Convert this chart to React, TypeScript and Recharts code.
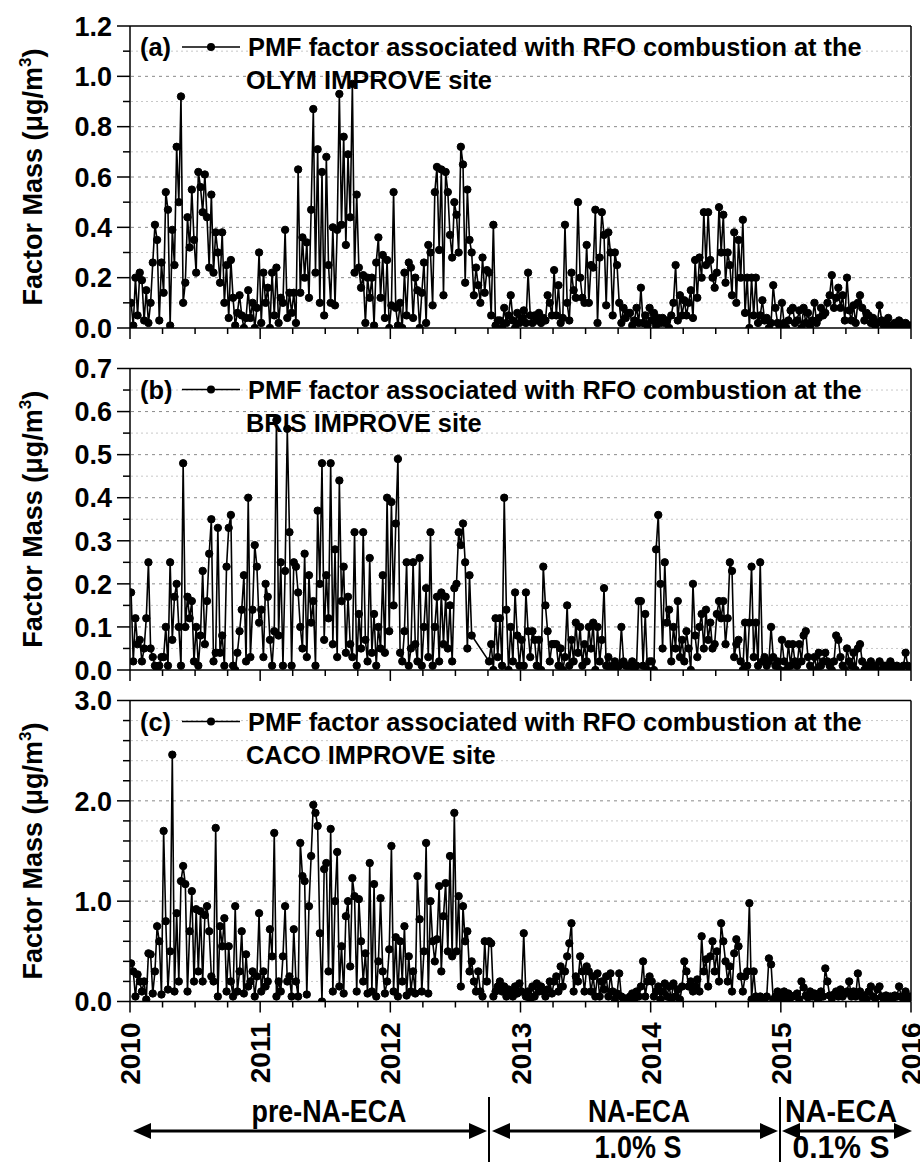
import { LineChart, Line, XAxis, YAxis } from "recharts"

// PMF RFO factor, OLYM site, 5 samples per month, Jan 2010 - Dec 2015
const olymValues: (number | null)[] = [
  0.10, 0.01, 0.20, 0.05, 0.22, 0.19, 0.03, 0.15, 0.02, 0.10,
  0.26, 0.41, 0.35, 0.03, 0.26, 0.14, 0.54, 0.47, 0.01, 0.39,
  0.25, 0.72, 0.50, 0.92, 0.10, 0.18, 0.44, 0.32, 0.55, 0.35,
  0.22, 0.62, 0.56, 0.46, 0.61, 0.44, 0.24, 0.53, 0.22, 0.38,
  0.30, 0.18, 0.38, 0.10, 0.25, 0.04, 0.27, 0.12, 0.01, 0.06,
  0.13, 0.05, 0.00, 0.04, 0.15, 0.04, 0.10, 0.00, 0.08, 0.30,
  0.02, 0.22, 0.10, 0.16, 0.00, 0.22, 0.05, 0.24, 0.02, 0.12,
  0.10, 0.39, 0.04, 0.14, 0.06, 0.14, 0.02, 0.63, 0.14, 0.36,
  0.20, 0.34, 0.12, 0.47, 0.87, 0.22, 0.71, 0.10, 0.62, 0.05,
  0.68, 0.25, 0.10, 0.40, 0.09, 0.39, 0.93, 0.41, 0.76, 0.33,
  0.69, 0.44, 0.97, 0.22, 0.53, 0.24, 0.16, 0.21, 0.02, 0.20,
  0.12, 0.20, 0.01, 0.26, 0.36, 0.12, 0.29, 0.04, 0.27, 0.00,
  0.09, 0.54, 0.08, 0.01, 0.10, 0.00, 0.22, 0.05, 0.26, 0.24,
  0.04, 0.20, 0.15, 0.00, 0.14, 0.26, 0.02, 0.33, 0.30, 0.09,
  0.54, 0.64, 0.31, 0.63, 0.13, 0.62, 0.54, 0.37, 0.28, 0.50,
  0.45, 0.30, 0.72, 0.65, 0.18, 0.55, 0.35, 0.30, 0.13, 0.24,
  0.17, 0.10, 0.28, 0.14, 0.23, 0.22, 0.05, 0.41, 0.01, 0.03,
  0.03, 0.00, 0.08, 0.02, 0.05, 0.13, 0.03, 0.00, 0.06, 0.02,
  0.04, 0.07, 0.02, 0.22, 0.05, 0.02, 0.05, 0.03, 0.06, 0.02,
  0.04, 0.03, 0.13, 0.10, 0.05, 0.23, 0.05, 0.17, 0.02, 0.04,
  0.41, 0.10, 0.03, 0.22, 0.15, 0.12, 0.50, 0.20, 0.12, 0.10,
  0.33, 0.10, 0.25, 0.24, 0.47, 0.02, 0.28, 0.46, 0.37, 0.09,
  0.38, 0.30, 0.05, 0.30, 0.25, 0.10, 0.02, 0.08, 0.04, 0.06,
  0.06, 0.01, 0.03, 0.08, 0.02, 0.16, 0.02, 0.05, 0.01, 0.08,
  0.03, 0.06, 0.01, 0.04, 0.02, 0.04, 0.02, 0.03, 0.00, 0.05,
  0.10, 0.25, 0.03, 0.13, 0.05, 0.11, 0.05, 0.10, 0.15, 0.04,
  0.27, 0.12, 0.28, 0.20, 0.46, 0.25, 0.46, 0.27, 0.20, 0.16,
  0.22, 0.48, 0.30, 0.45, 0.18, 0.30, 0.25, 0.13, 0.38, 0.10,
  0.35, 0.20, 0.43, 0.06, 0.20, 0.00, 0.20, 0.05, 0.20, 0.02,
  0.05, 0.11, 0.03, 0.04, 0.00, 0.02, 0.17, 0.08, 0.02, 0.00,
  0.10, 0.02, 0.00, 0.03, 0.07, 0.08, 0.02, 0.03, 0.07, 0.00,
  0.08, 0.02, 0.06, 0.01, 0.03, 0.10, 0.02, 0.04, 0.08, 0.05,
  0.06, 0.10, 0.13, 0.21, 0.08, 0.12, 0.16, 0.08, 0.13, 0.03,
  0.20, 0.07, 0.03, 0.09, 0.02, 0.10, 0.13, 0.08, 0.03, 0.06,
  0.05, 0.02, 0.04, 0.01, 0.02, 0.09, 0.03, 0.01, 0.02, 0.04,
  0.01, 0.00, 0.02, 0.01, 0.03, 0.02, 0.01, 0.02, 0.01, 0.01,
]

// BRIS site (null = no samples, late 2012)
const brisValues: (number | null)[] = [
  0.18, 0.02, 0.12, 0.06, 0.07, 0.02, 0.05, 0.12, 0.25, 0.05,
  0.03, 0.01, 0.00, 0.01, 0.03, 0.03, 0.10, 0.01, 0.25, 0.07,
  0.17, 0.20, 0.10, 0.01, 0.48, 0.10, 0.17, 0.12, 0.16, 0.02,
  0.10, 0.01, 0.08, 0.23, 0.06, 0.16, 0.27, 0.35, 0.02, 0.04,
  0.33, 0.04, 0.08, 0.01, 0.24, 0.33, 0.36, 0.01, 0.00, 0.04,
  0.09, 0.14, 0.22, 0.02, 0.40, 0.03, 0.14, 0.29, 0.24, 0.11,
  0.14, 0.03, 0.20, 0.17, 0.07, 0.01, 0.09, 0.58, 0.08, 0.25,
  0.01, 0.23, 0.56, 0.32, 0.01, 0.25, 0.24, 0.18, 0.10, 0.05,
  0.27, 0.03, 0.22, 0.11, 0.16, 0.01, 0.37, 0.20, 0.48, 0.07,
  0.22, 0.12, 0.48, 0.06, 0.28, 0.03, 0.44, 0.16, 0.24, 0.04,
  0.17, 0.06, 0.03, 0.32, 0.01, 0.13, 0.05, 0.32, 0.07, 0.02,
  0.26, 0.04, 0.13, 0.01, 0.10, 0.05, 0.22, 0.04, 0.40, 0.09,
  0.39, 0.15, 0.34, 0.49, 0.04, 0.02, 0.09, 0.25, 0.01, 0.05,
  0.25, 0.06, 0.02, 0.26, 0.01, 0.10, 0.19, 0.03, 0.32, 0.01,
  0.10, 0.17, 0.02, 0.18, 0.06, 0.17, 0.05, 0.15, 0.02, 0.19,
  0.20, 0.32, 0.29, 0.34, 0.25, 0.05, 0.22, 0.08, null, null,
  null, null, null, null, null, 0.02, 0.06, 0.00, 0.12, 0.03,
  0.12, 0.01, 0.40, 0.14, 0.00, 0.10, 0.02, 0.18, 0.08, 0.01,
  0.07, 0.01, 0.18, 0.09, 0.03, 0.09, 0.07, 0.01, 0.07, 0.00,
  0.24, 0.15, 0.09, 0.02, 0.06, 0.06, 0.06, 0.01, 0.05, 0.00,
  0.03, 0.15, 0.01, 0.07, 0.02, 0.11, 0.04, 0.10, 0.01, 0.06,
  0.02, 0.10, 0.05, 0.11, 0.00, 0.10, 0.02, 0.07, 0.19, 0.01,
  0.03, 0.00, 0.01, 0.02, 0.00, 0.01, 0.10, 0.02, 0.01, 0.01,
  0.01, 0.02, 0.00, 0.01, 0.16, 0.16, 0.01, 0.13, 0.00, 0.02,
  0.02, 0.00, 0.28, 0.36, 0.20, 0.05, 0.25, 0.11, 0.14, 0.02,
  0.10, 0.05, 0.16, 0.03, 0.07, 0.02, 0.09, 0.05, 0.00, 0.20,
  0.08, 0.03, 0.10, 0.13, 0.05, 0.14, 0.07, 0.11, 0.05, 0.06,
  0.13, 0.16, 0.12, 0.16, 0.06, 0.12, 0.25, 0.23, 0.03, 0.06,
  0.07, 0.02, 0.00, 0.11, 0.01, 0.11, 0.24, 0.03, 0.11, 0.01,
  0.25, 0.02, 0.03, 0.01, 0.02, 0.10, 0.03, 0.01, 0.02, 0.00,
  0.07, 0.02, 0.00, 0.06, 0.01, 0.06, 0.02, 0.01, 0.06, 0.02,
  0.08, 0.09, 0.03, 0.01, 0.00, 0.03, 0.00, 0.04, 0.01, 0.02,
  0.04, 0.02, 0.01, 0.00, 0.02, 0.08, 0.07, 0.03, 0.01, 0.00,
  0.05, 0.02, 0.01, 0.04, 0.00, 0.05, 0.06, 0.02, 0.00, 0.01,
  0.01, 0.02, 0.00, 0.01, 0.00, 0.02, 0.00, 0.01, 0.01, 0.00,
  0.02, 0.01, 0.00, 0.01, 0.00, 0.00, 0.01, 0.04, 0.01, 0.00,
]

// CACO site
const cacoValues: (number | null)[] = [
  0.38, 0.30, 0.05, 0.27, 0.20, 0.10, 0.20, 0.02, 0.48, 0.47,
  0.08, 0.30, 0.75, 0.60, 0.07, 1.70, 0.80, 0.12, 0.50, 2.46,
  0.10, 0.88, 0.20, 1.20, 1.35, 1.17, 0.10, 0.70, 1.10, 0.20,
  0.92, 0.30, 0.90, 0.20, 0.86, 0.95, 0.70, 0.25, 0.20, 1.73,
  0.05, 0.75, 0.55, 0.83, 0.10, 0.55, 0.20, 0.05, 0.95, 0.10,
  0.30, 0.70, 0.08, 0.47, 0.15, 0.20, 0.30, 0.05, 0.25, 0.88,
  0.10, 0.30, 0.15, 0.20, 0.72, 0.45, 1.68, 0.05, 0.20, 0.10,
  0.45, 0.95, 0.20, 0.25, 0.05, 0.72, 0.20, 0.05, 1.58, 1.25,
  1.20, 0.07, 0.95, 1.45, 1.96, 1.88, 1.75, 0.68, 0.00, 1.32,
  1.38, 0.30, 1.72, 0.10, 1.00, 1.49, 0.15, 0.55, 0.08, 0.85,
  1.00, 0.35, 1.23, 1.05, 0.10, 1.02, 0.60, 0.20, 0.48, 0.08,
  1.38, 0.10, 1.17, 0.05, 0.40, 1.03, 0.30, 0.08, 0.20, 0.52,
  1.55, 0.10, 0.64, 0.05, 0.60, 0.20, 0.75, 0.06, 0.45, 0.10,
  0.30, 0.08, 1.25, 0.82, 0.10, 0.50, 1.58, 0.08, 1.00, 0.60,
  0.40, 0.62, 1.15, 0.30, 0.85, 1.18, 0.50, 1.45, 0.45, 1.88,
  0.50, 1.05, 0.15, 0.95, 0.60, 0.70, 0.30, 0.40, 0.20, 0.10,
  0.30, 0.10, 0.05, 0.60, 0.20, 0.60, 0.58, 0.05, 0.10, 0.15,
  0.20, 0.10, 0.15, 0.05, 0.12, 0.10, 0.05, 0.15, 0.08, 0.18,
  0.10, 0.68, 0.05, 0.10, 0.02, 0.15, 0.05, 0.18, 0.10, 0.15,
  0.10, 0.05, 0.12, 0.20, 0.08, 0.20, 0.25, 0.10, 0.35, 0.15,
  0.30, 0.45, 0.58, 0.78, 0.10, 0.25, 0.20, 0.45, 0.30, 0.10,
  0.35, 0.30, 0.10, 0.25, 0.05, 0.28, 0.05, 0.20, 0.12, 0.25,
  0.05, 0.28, 0.10, 0.02, 0.08, 0.28, 0.05, 0.02, 0.03, 0.00,
  0.05, 0.08, 0.03, 0.10, 0.05, 0.15, 0.40, 0.05, 0.20, 0.25,
  0.20, 0.05, 0.10, 0.15, 0.02, 0.10, 0.18, 0.05, 0.15, 0.02,
  0.18, 0.05, 0.12, 0.02, 0.15, 0.40, 0.30, 0.15, 0.20, 0.10,
  0.15, 0.22, 0.10, 0.65, 0.30, 0.42, 0.15, 0.45, 0.60, 0.30,
  0.50, 0.20, 0.78, 0.60, 0.40, 0.20, 0.35, 0.10, 0.48, 0.62,
  0.55, 0.25, 0.10, 0.25, 0.30, 0.98, 0.02, 0.30, 0.05, 0.00,
  0.05, 0.02, 0.00, 0.05, 0.43, 0.37, 0.02, 0.05, 0.10, 0.03,
  0.05, 0.10, 0.02, 0.08, 0.04, 0.05, 0.06, 0.08, 0.02, 0.20,
  0.14, 0.06, 0.04, 0.10, 0.05, 0.08, 0.04, 0.03, 0.10, 0.05,
  0.33, 0.20, 0.06, 0.03, 0.07, 0.10, 0.05, 0.12, 0.05, 0.08,
  0.10, 0.20, 0.05, 0.10, 0.05, 0.28, 0.10, 0.04, 0.06, 0.02,
  0.10, 0.15, 0.05, 0.03, 0.12, 0.15, 0.05, 0.02, 0.06, 0.04,
  0.05, 0.02, 0.06, 0.05, 0.15, 0.05, 0.02, 0.10, 0.03, 0.05,
]

const years = [2010, 2011, 2012, 2013, 2014, 2015, 2016]
const quarterTicks = years.flatMap((y) => (y < 2016 ? [y, y + 0.25, y + 0.5, y + 0.75] : [y]))

const FONT = "'Liberation Sans', Arial, sans-serif"
const PLOT_LEFT = 130
const PLOT_RIGHT = 911

const toRows = (values: (number | null)[]) =>
  values.map((v, i) => ({ t: 2010 + ((i + 0.5) * 6) / values.length, v }))

type PanelProps = {
  values: (number | null)[]
  yMax: number
  major: number
  minor: number
  top: number
  plotTop: number
  plotBottom: number
  height: number
  showYears: boolean
}

function Panel({ values, yMax, major, minor, top, plotTop, plotBottom, height, showYears }: PanelProps) {
  const data = toRows(values)
  const count = Math.round(yMax / minor)
  const yTicks = Array.from({ length: count + 1 }, (_, i) => +(i * minor).toFixed(3))
  const isMajor = (v: number) => Math.abs(v / major - Math.round(v / major)) < 1e-6
  const xAxisHeight = showYears ? 90 : 14
  const bottom = top + height - plotBottom - xAxisHeight
  const plotH = plotBottom - plotTop
  const margin = { top: plotTop - top, right: 920 - PLOT_RIGHT, bottom, left: 0 }

  // y ticks also carry the horizontal grid and the top frame line
  const yTick = (props: any) => {
    const { x, y, payload } = props
    const v = payload.value as number
    const m = isMajor(v)
    const isTop = Math.abs(v - yMax) < 1e-6
    return (
      <g>
        {v > 0 && !isTop && (
          <line
            x1={x + 1}
            x2={PLOT_RIGHT}
            y1={y}
            y2={y}
            stroke={m ? "#8a8a8a" : "#c8c8c8"}
            strokeWidth={1}
            strokeDasharray={m ? "3 4" : "2 3"}
          />
        )}
        {isTop && <line x1={x} x2={PLOT_RIGHT} y1={y} y2={y} stroke="#000" strokeWidth={1.5} />}
        <line x1={x - (m ? 13 : 7)} x2={x} y1={y} y2={y} stroke="#000" strokeWidth={1.5} />
        {m && (
          <text x={x - 18} y={y} dy="0.36em" textAnchor="end" fontSize={27} fontWeight="bold" fontFamily={FONT} fill="#000">
            {v.toFixed(1)}
          </text>
        )}
      </g>
    )
  }

  const xTick = (props: any) => {
    const { x, y, payload } = props
    const v = payload.value as number
    const m = Math.abs(v - Math.round(v)) < 1e-6
    return (
      <g>
        {v === 2016 && <line x1={x} x2={x} y1={y} y2={y - plotH} stroke="#000" strokeWidth={1.5} />}
        <line x1={x} x2={x} y1={y} y2={y + (m ? 11 : 6)} stroke="#000" strokeWidth={1.5} />
        {showYears && m && (
          <text
            transform={`translate(${x + 10},${y + 21}) rotate(-90)`}
            textAnchor="end"
            fontSize={28}
            fontWeight="bold"
            fontFamily={FONT}
            fill="#000"
          >
            {Math.round(v)}
          </text>
        )}
      </g>
    )
  }

  const axes = (visible: boolean) => [
    <XAxis
      key="x"
      dataKey="t"
      type="number"
      domain={[2010, 2016]}
      ticks={quarterTicks}
      interval={0}
      height={xAxisHeight}
      tickSize={0}
      tickMargin={0}
      tickLine={false}
      axisLine={visible ? { stroke: "#000", strokeWidth: 1.5 } : false}
      tick={visible ? xTick : false}
      allowDataOverflow
    />,
    <YAxis
      key="y"
      type="number"
      domain={[0, yMax]}
      ticks={yTicks}
      interval={0}
      width={PLOT_LEFT}
      tickSize={0}
      tickMargin={0}
      tickLine={false}
      axisLine={visible ? { stroke: "#000", strokeWidth: 1.5 } : false}
      tick={visible ? yTick : false}
      allowDataOverflow
    />,
  ]

  return (
    <div style={{ position: "absolute", top, left: 0, width: 920, height }}>
      <div style={{ position: "absolute", top: 0, left: 0 }}>
        <LineChart width={920} height={height} data={data} margin={margin}>
          {axes(true)}
        </LineChart>
      </div>
      <div style={{ position: "absolute", top: 0, left: 0 }}>
        <LineChart width={920} height={height} data={data} margin={margin}>
          {axes(false)}
          <Line
            type="linear"
            dataKey="v"
            stroke="#000"
            strokeWidth={1.6}
            dot={{ r: 3.7, fill: "#000", stroke: "#000", strokeWidth: 1 }}
            activeDot={false}
            connectNulls
            isAnimationActive={false}
          />
        </LineChart>
      </div>
    </div>
  )
}

const panels = [
  { tag: "(a)", site: "OLYM IMPROVE site", plotTop: 26, plotBottom: 328 },
  { tag: "(b)", site: "BRIS IMPROVE site", plotTop: 368.5, plotBottom: 670 },
  { tag: "(c)", site: "CACO IMPROVE site", plotTop: 700.5, plotBottom: 1001.5 },
]

function Arrow({ x1, x2, y }: { x1: number; x2: number; y: number }) {
  const h = 18
  const w = 8
  return (
    <g>
      <line x1={x1 + h - 2} x2={x2 - h + 2} y1={y} y2={y} stroke="#000" strokeWidth={3} />
      <polygon points={`${x1},${y} ${x1 + h},${y - w} ${x1 + h},${y + w}`} fill="#000" />
      <polygon points={`${x2},${y} ${x2 - h},${y - w} ${x2 - h},${y + w}`} fill="#000" />
    </g>
  )
}

function Overlay() {
  const narrow = "'Liberation Sans Narrow', 'Liberation Sans', Arial, sans-serif"
  return (
    <svg width={920} height={1162} style={{ position: "absolute", top: 0, left: 0, pointerEvents: "none" }}>
      {panels.map((p) => {
        const cy = (p.plotTop + p.plotBottom) / 2
        return (
          <g key={p.tag} fontFamily={FONT} fontWeight="bold" fill="#000">
            <text transform={`translate(42,${cy}) rotate(-90)`} textAnchor="middle" fontSize={27}>
              Factor Mass (μg/m
              <tspan fontSize={17} dy={-11}>3</tspan>
              <tspan dy={11}>)</tspan>
            </text>
            <text x={140} y={p.plotTop + 30} fontSize={25.4}>{p.tag}</text>
            <line x1={182} x2={240} y1={p.plotTop + 21} y2={p.plotTop + 21} stroke="#000" strokeWidth={1.5} />
            <circle cx={211} cy={p.plotTop + 21} r={4} fill="#000" />
            <text x={248} y={p.plotTop + 30} fontSize={25.4}>PMF factor associated with RFO combustion at the</text>
            <text x={246} y={p.plotTop + 63} fontSize={25.4}>{p.site}</text>
          </g>
        )
      })}
      <line x1={489} x2={489} y1={1097} y2={1162} stroke="#000" strokeWidth={2} />
      <line x1={780} x2={780} y1={1097} y2={1162} stroke="#000" strokeWidth={2} />
      <Arrow x1={133} x2={487} y={1131} />
      <Arrow x1={492} x2={778} y={1131} />
      <Arrow x1={782} x2={912} y={1131} />
      <g fontFamily={narrow} fontWeight="bold" fontSize={31} fill="#000" textAnchor="middle">
        <text x={329} y={1122} textLength={155} lengthAdjust="spacingAndGlyphs">pre-NA-ECA</text>
        <text x={639} y={1122} textLength={102} lengthAdjust="spacingAndGlyphs">NA-ECA</text>
        <text x={638} y={1158} textLength={87} lengthAdjust="spacingAndGlyphs">1.0% S</text>
        <text x={841} y={1122} textLength={112} lengthAdjust="spacingAndGlyphs">NA-ECA</text>
        <text x={841} y={1158} textLength={97} lengthAdjust="spacingAndGlyphs">0.1% S</text>
      </g>
    </svg>
  )
}

export default function App() {
  return (
    <div style={{ position: "absolute", top: 0, left: 0, width: 920, height: 1162, background: "#fff", overflow: "hidden" }}>
      <Panel values={olymValues} yMax={1.2} major={0.2} minor={0.1} top={0} plotTop={26} plotBottom={328} height={350} showYears={false} />
      <Panel values={brisValues} yMax={0.7} major={0.1} minor={0.05} top={340} plotTop={368.5} plotBottom={670} height={350} showYears={false} />
      <Panel values={cacoValues} yMax={3.0} major={1.0} minor={0.2} top={680} plotTop={700.5} plotBottom={1001.5} height={482} showYears={true} />
      <Overlay />
    </div>
  )
}
